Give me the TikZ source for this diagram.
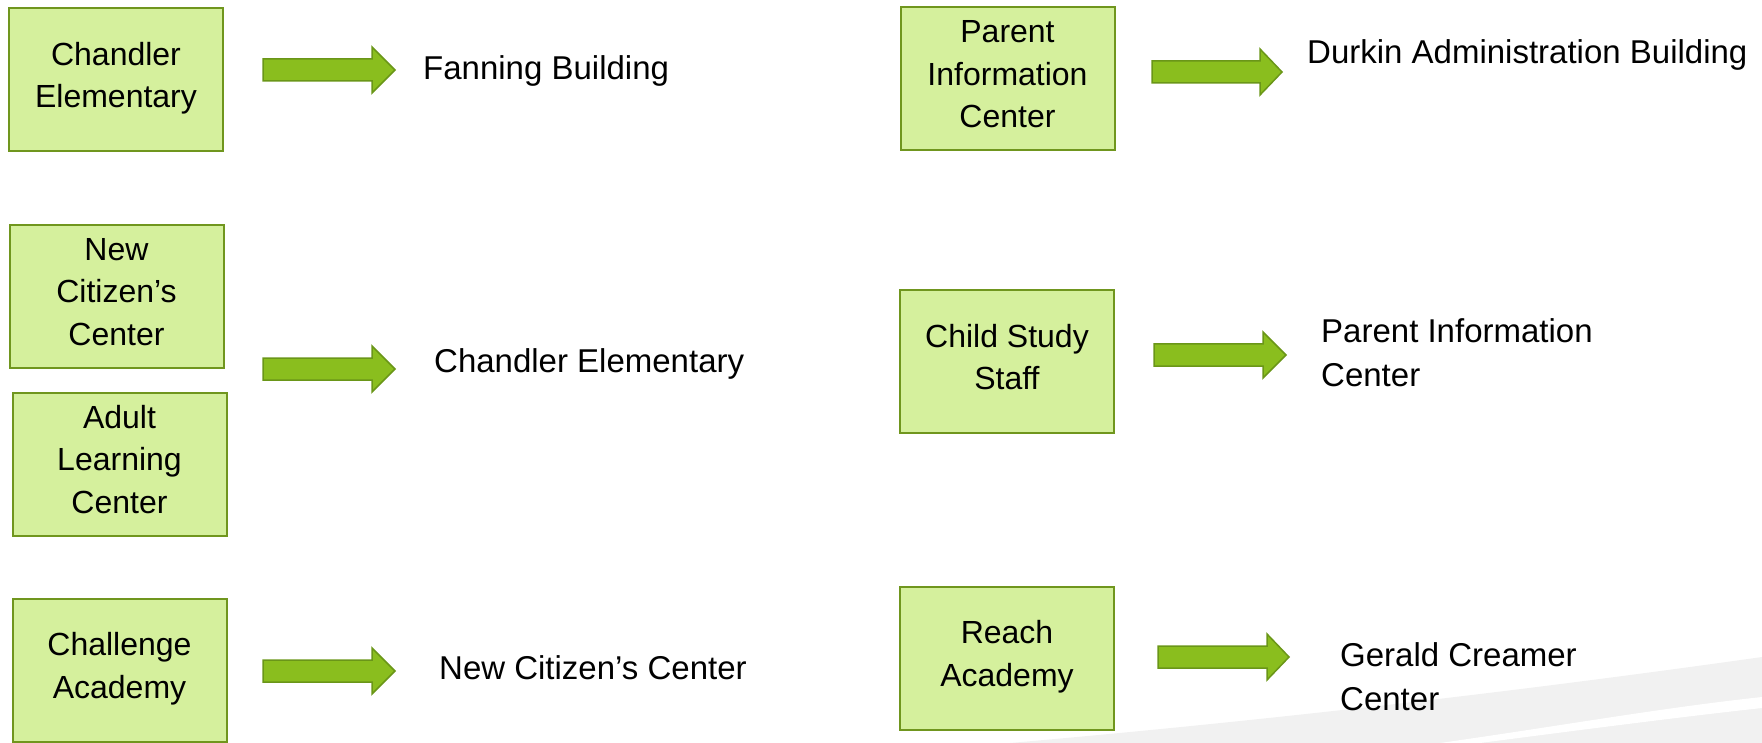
\documentclass[tikz,border=0pt]{standalone}
\usepackage{fontspec}
\setmainfont{Liberation Sans}
\definecolor{boxfill}{RGB}{213,240,157}
\definecolor{boxline}{RGB}{112,150,30}
\definecolor{arrfill}{RGB}{138,190,30}
\definecolor{arrline}{RGB}{106,150,24}
\definecolor{swgray}{RGB}{241,241,241}
\newcommand{\blkarrow}[5]{% name, x start, x tip, x head base, y centre
  \draw[blockarr] (#2,#5-11) -- (#4,#5-11) -- (#4,#5-23) -- (#3,#5) -- (#4,#5+23) -- (#4,#5+11) -- (#2,#5+11) -- cycle;
  \coordinate (#1) at (#3,#5);}
\tikzset{
  srcbox/.style={draw=boxline, fill=boxfill, line width=2pt, minimum width=214pt, minimum height=143pt,
    inner sep=0pt, align=center, text depth=9.6pt, font=\fontsize{32}{42.5}\selectfont},
  blockarr/.style={fill=arrfill, draw=arrline, line width=1.5pt, line join=miter},
  dest/.style={anchor=base west, inner sep=0pt, align=left, font=\fontsize{33}{44}\selectfont}
}
\begin{document}
\begin{tikzpicture}[x=1pt,y=-1pt]
\useasboundingbox (0,0) rectangle (1762,743);
% background swoosh
\fill[swgray] (1010,743) .. controls (1250,722) and (1500,694) .. (1762,657) -- (1762,743) -- cycle;
\fill[white] (1440,743) .. controls (1560,726) and (1660,708) .. (1762,697) -- (1762,708) .. controls (1680,717) and (1580,730) .. (1480,743) -- cycle;
% source boxes
\node[srcbox] (chandler) at (116,79.5) {Chandler\\Elementary};
\node[srcbox] (newcit) at (116.5,296.5) {New\\Citizen’s\\Center};
\node[srcbox] (adult) at (119.5,464) {Adult\\Learning\\Center};
\node[srcbox] (challenge) at (119.5,670) {Challenge\\Academy};
\node[srcbox] (parent) at (1007.5,79) {Parent\\Information\\Center};
\node[srcbox] (child) at (1007,361.5) {Child Study\\Staff};
\node[srcbox] (reach) at (1007,658) {Reach\\Academy};
% arrows
\blkarrow{a1}{263}{395}{372}{70}
\blkarrow{a2}{263}{395}{372}{369}
\blkarrow{a3}{263}{395}{372}{671}
\blkarrow{a4}{1152}{1282}{1260}{72}
\blkarrow{a5}{1154}{1286}{1263}{355}
\blkarrow{a6}{1158}{1289}{1267}{657}
% destinations
\node[dest] (fanning) at (423,80) {Fanning Building};
\node[dest] (chandlerdest) at (434,372) {Chandler Elementary};
\node[dest] (newcitdest) at (439,679) {New Citizen’s Center};
\node[dest] (durkin) at (1307,64) {Durkin Administration Building};
\node[dest] (parentdest) at (1321,386) {Parent Information\\Center};
\node[dest] (gerald) at (1340,710) {Gerald Creamer\\Center};
\end{tikzpicture}
\end{document}
